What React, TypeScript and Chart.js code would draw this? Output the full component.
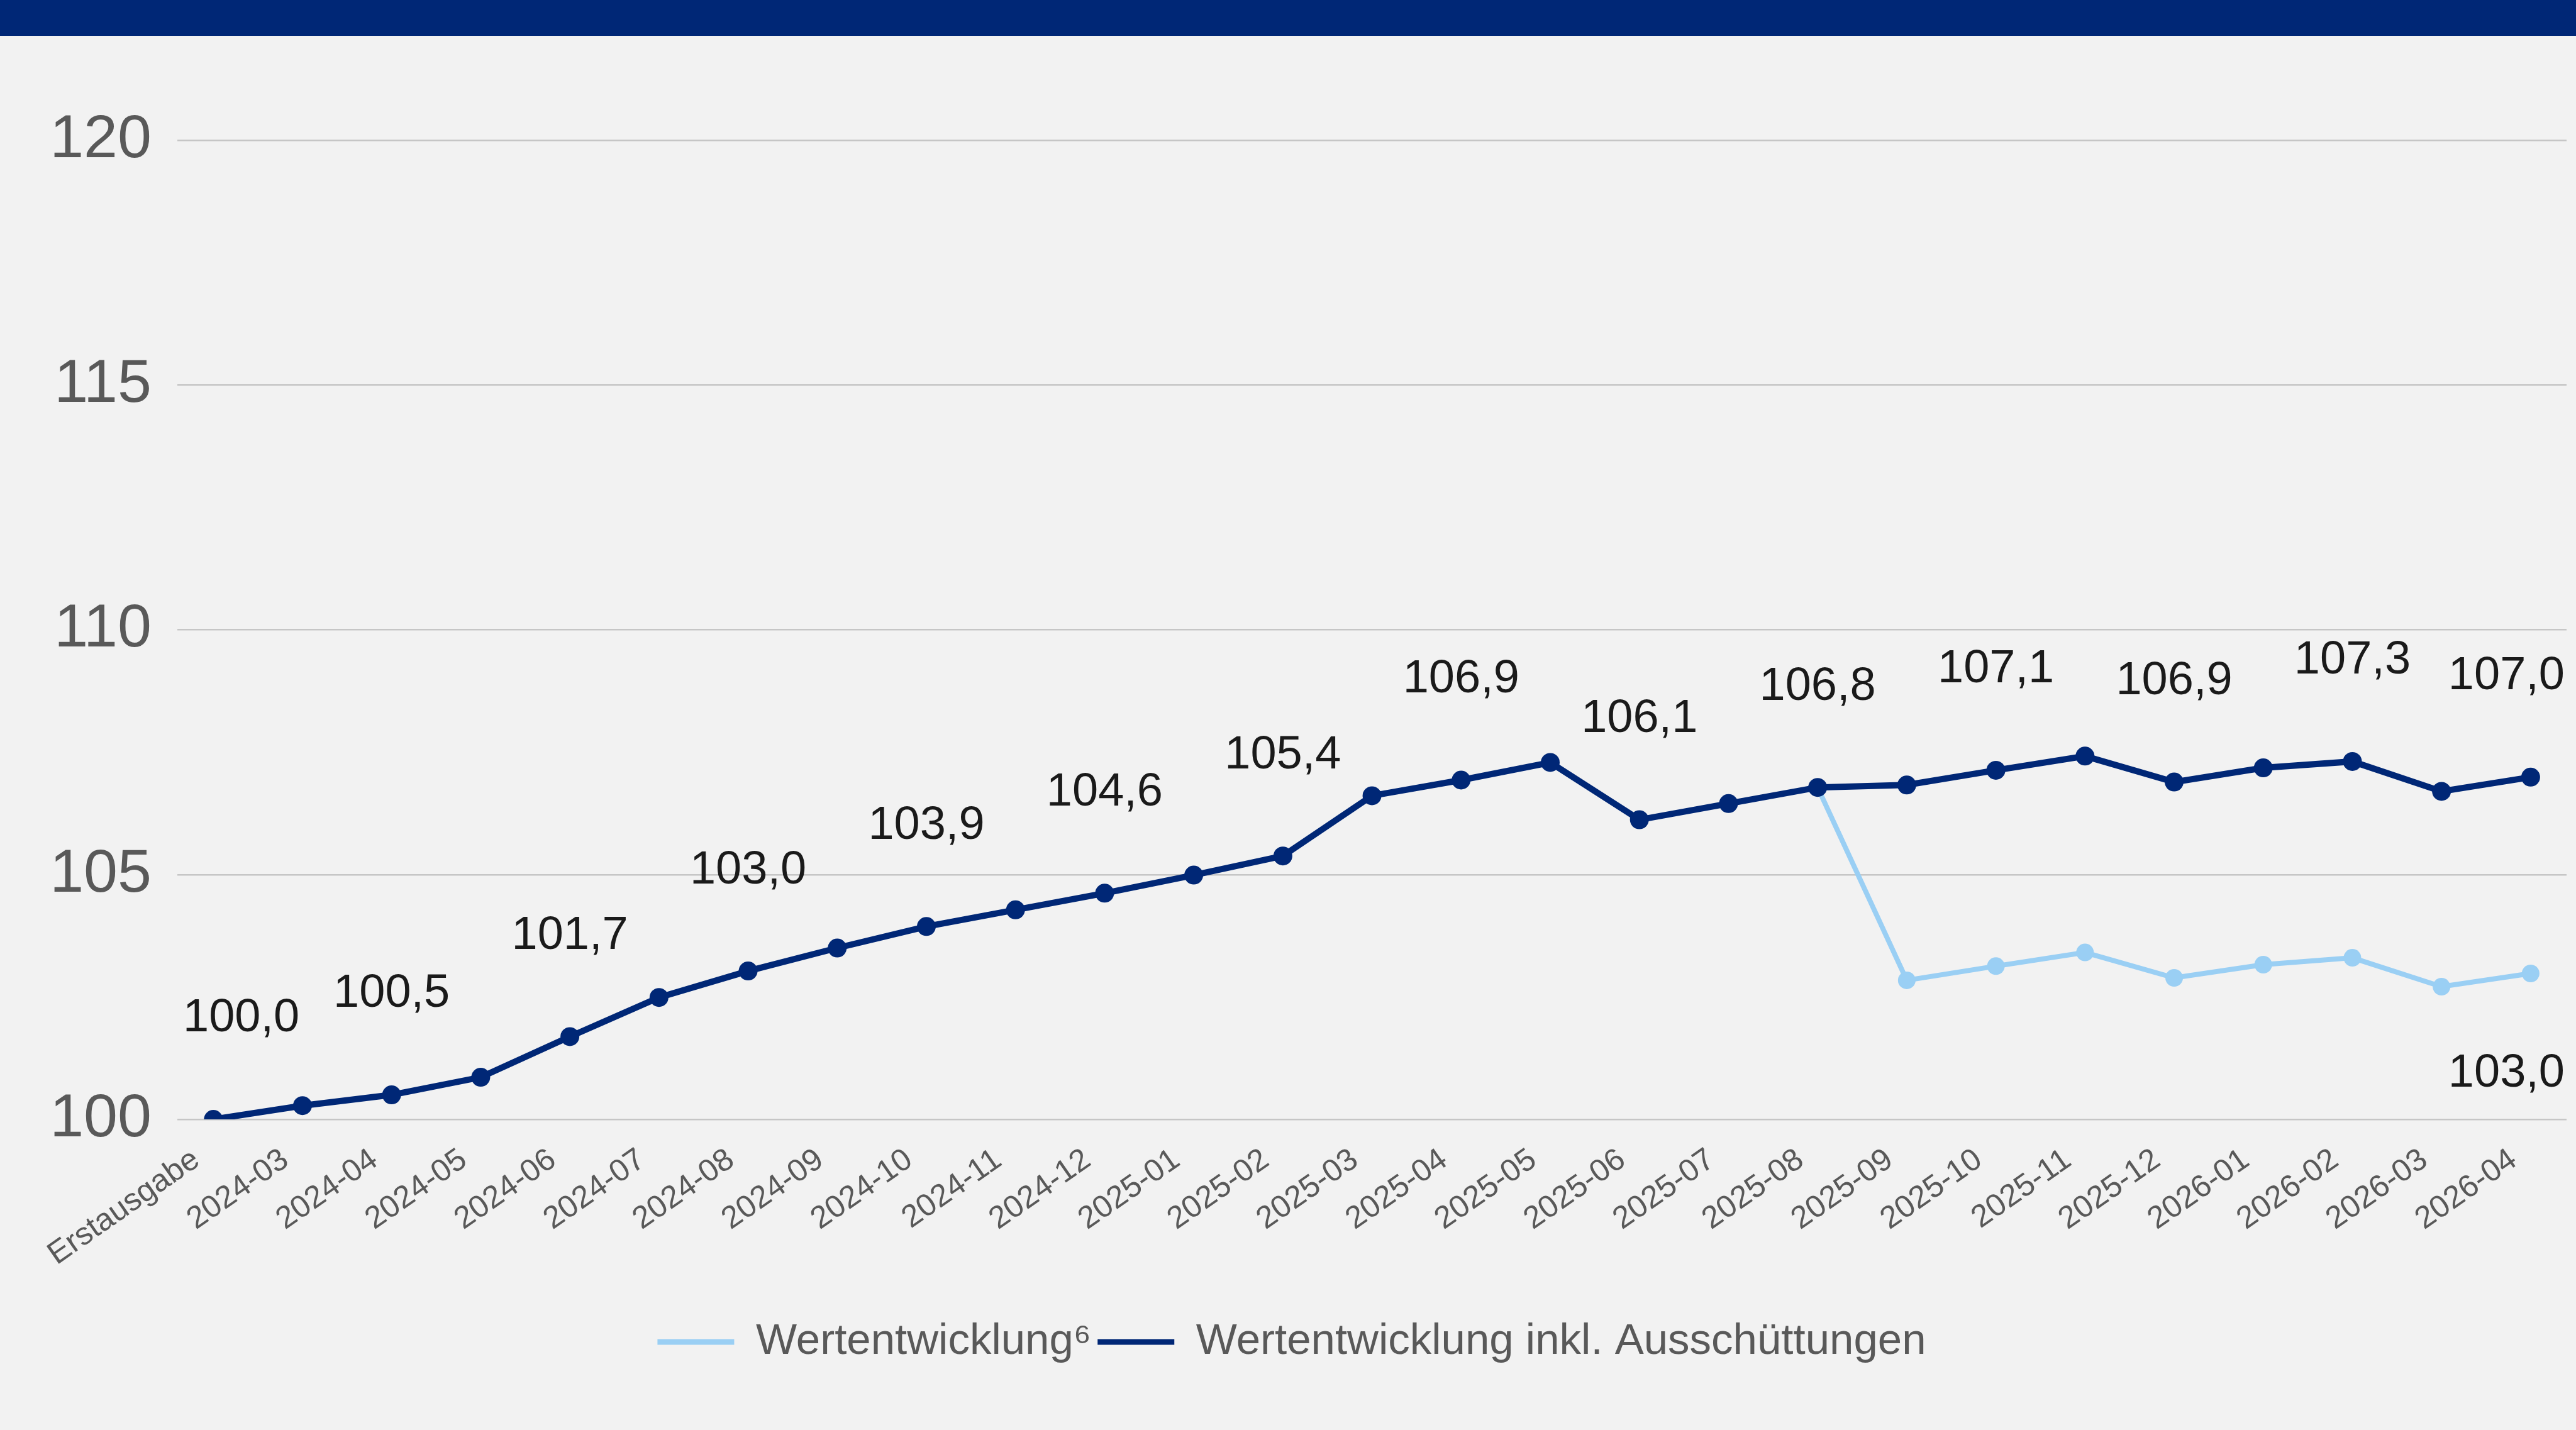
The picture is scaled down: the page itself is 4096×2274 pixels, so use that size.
import React, { useEffect, useRef } from "react";
import { Chart, registerables } from "chart.js";

Chart.register(...registerables);

const W = 4096;
const H = 2274;

const categories = [
  "Erstausgabe", "2024-03", "2024-04", "2024-05", "2024-06", "2024-07", "2024-08",
  "2024-09", "2024-10", "2024-11", "2024-12", "2025-01", "2025-02", "2025-03",
  "2025-04", "2025-05", "2025-06", "2025-07", "2025-08", "2025-09", "2025-10",
  "2025-11", "2025-12", "2026-01", "2026-02", "2026-03", "2026-04",
];

const seriesNames = ["Wertentwicklung⁶", "Wertentwicklung inkl. Ausschüttungen"];

const wertentwicklung = [
  100.0, 100.28, 100.5, 100.86, 101.69, 102.49, 103.03, 103.5, 103.94, 104.28,
  104.62, 104.99, 105.38, 106.61, 106.93, 107.29, 106.12, 106.45, 106.78,
  102.84, 103.13, 103.41, 102.89, 103.16, 103.3, 102.71, 102.98,
];

const inklAusschuettungen = [
  100.0, 100.28, 100.5, 100.86, 101.69, 102.49, 103.03, 103.5, 103.94, 104.28,
  104.62, 104.99, 105.38, 106.61, 106.93, 107.29, 106.12, 106.45, 106.78,
  106.83, 107.13, 107.42, 106.89, 107.18, 107.31, 106.7, 106.99,
];

const yTicks = [100, 105, 110, 115, 120];

// indices of the points that carry a value label
const lightLabelIdx = [26];
const darkLabelIdx = [0, 2, 4, 6, 8, 10, 12, 14, 16, 18, 20, 22, 24, 26];

const NAVY = "#002776";
const LIGHT = "#9ACFF4";
const FONT = "'Liberation Sans', Arial, Helvetica, sans-serif";

const seriesValues = [wertentwicklung, inklAusschuettungen];

const valueLabels = {
  id: "valueLabels",
  afterDatasetsDraw(chart: any) {
    const ctx = chart.ctx;
    const area = chart.chartArea;
    const sets = [
      { ds: 0, idx: lightLabelIdx, dir: 1 },
      { ds: 1, idx: darkLabelIdx, dir: -1 },
    ];
    ctx.save();
    ctx.font = `74px ${FONT}`;
    ctx.fillStyle = "#1a1a1a";
    ctx.textAlign = "center";
    ctx.textBaseline = "middle";
    for (const s of sets) {
      const meta = chart.getDatasetMeta(s.ds);
      const vals = seriesValues[s.ds];
      for (const i of s.idx) {
        const pt = meta.data[i];
        if (!pt) continue;
        const text = vals[i].toFixed(1).replace(".", ",");
        const w = ctx.measureText(text).width;
        let x = pt.x;
        x = Math.max(x, area.left + 9 + w / 2);
        x = Math.min(x, area.right - 3 - w / 2);
        const y = pt.y + s.dir * 160;
        ctx.fillText(text, x, y);
      }
    }
    ctx.restore();
  },
};

export default function App() {
  const ref = useRef<HTMLCanvasElement | null>(null);

  useEffect(() => {
    const canvas = ref.current;
    if (!canvas) return;
    Chart.defaults.font.family = FONT;
    const chart = new Chart(canvas, {
      type: "line",
      data: {
        datasets: [
          {
            label: seriesNames[0],
            data: wertentwicklung.map((v, i) => ({ x: i, y: v })),
            borderColor: LIGHT,
            backgroundColor: LIGHT,
            borderWidth: 8,
            pointRadius: 14,
            pointBorderWidth: 0,
            pointBackgroundColor: LIGHT,
            pointHoverRadius: 14,
            tension: 0,
            order: 1,
          },
          {
            label: seriesNames[1],
            data: inklAusschuettungen.map((v, i) => ({ x: i, y: v })),
            borderColor: NAVY,
            backgroundColor: NAVY,
            borderWidth: 10,
            pointRadius: 15,
            pointBorderWidth: 0,
            pointBackgroundColor: NAVY,
            pointHoverRadius: 15,
            tension: 0,
            order: 0,
          },
        ],
      },
      options: {
        responsive: false,
        animation: false,
        devicePixelRatio: 1,
        layout: { padding: { top: 223, right: 8, bottom: 95.5, left: 20 } },
        scales: {
          x: {
            type: "linear",
            min: -0.404,
            max: 26.403,
            grid: { display: false },
            border: { display: false },
            afterFit: (s: any) => {
              s.height = 309.5;
            },
            ticks: {
              stepSize: 1,
              includeBounds: false,
              autoSkip: false,
              minRotation: 35,
              maxRotation: 35,
              padding: 27,
              labelOffset: -27,
              color: "#595959",
              font: { size: 50, family: FONT },
              callback: (v: any) => {
                const n = Number(v);
                return Number.isInteger(n) && categories[n] !== undefined ? categories[n] : "";
              },
            },
          },
          y: {
            type: "linear",
            min: yTicks[0],
            max: yTicks[yTicks.length - 1],
            border: { display: false },
            grid: { color: "#c6c6c6", lineWidth: 2.5, drawTicks: false },
            afterFit: (s: any) => {
              s.width = 262;
            },
            afterBuildTicks: (s: any) => {
              s.ticks = yTicks.map((v) => ({ value: v }));
            },
            ticks: {
              padding: 41,
              color: "#595959",
              font: { size: 97, family: FONT },
              callback: (v: any) => String(v),
            },
          },
        },
        plugins: {
          legend: {
            display: true,
            position: "bottom",
            labels: {
              boxWidth: 122,
              boxHeight: 9,
              padding: 10,
              color: "#595959",
              font: { size: 69, family: FONT },
              generateLabels: (c: any) =>
                c.data.datasets.map((d: any, i: number) => ({
                  text: d.label,
                  fillStyle: d.borderColor,
                  strokeStyle: d.borderColor,
                  lineWidth: 0,
                  fontColor: "#595959",
                  hidden: false,
                  datasetIndex: i,
                })),
            },
          },
          tooltip: { enabled: false },
        },
      },
      plugins: [valueLabels],
    } as any);
    return () => chart.destroy();
  }, []);

  return (
    <div
      style={{
        position: "fixed",
        left: 0,
        top: 0,
        width: W,
        height: H,
        background: "#f2f2f2",
        overflow: "hidden",
      }}
    >
      <div
        style={{
          position: "absolute",
          left: 0,
          top: 0,
          width: W,
          height: 57,
          background: NAVY,
        }}
      />
      <canvas
        ref={ref}
        width={W}
        height={H}
        style={{ position: "absolute", left: 0, top: 0, width: W, height: H }}
      />
    </div>
  );
}
